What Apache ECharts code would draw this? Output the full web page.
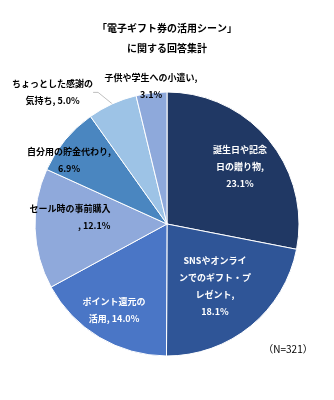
<!DOCTYPE html>
<html>
<head>
<meta charset="utf-8">
<script src="https://cdn.jsdelivr.net/npm/echarts@6/dist/echarts.min.js"></script>
<style>html,body{margin:0;padding:0;background:#fff}#c{width:334px;height:400px}</style>
</head>
<body>
<div id="c"></div>
<script>
// ---- data ----
const titleLines = ['「電子ギフト券の活用シーン」', 'に関する回答集計'];
const categories = ['誕生日や記念日の贈り物', 'SNSやオンラインでのギフト・プレゼント', 'ポイント還元の活用', 'セール時の事前購入', '自分用の貯金代わり', 'ちょっとした感謝の気持ち', '子供や学生への小遣い'];
const values = [23.1, 18.1, 14.0, 12.1, 6.9, 5.0, 3.1];
const sampleSize = 321;

// ---- style ----
const FONT = '"Noto Sans CJK JP", "Noto Sans", sans-serif';
const colors = ['#203864', '#2F5597', '#4A76C6', '#8FA9DB', '#4A86C0', '#9DC3E6', '#8EA9DB'];
const labelColors = ['#fff', '#fff', '#fff', '#000', '#000', '#000', '#000'];
const lineBreaks = [[6, 12], [8, 16, 21], [7], [9], [10], [9], [11]];
const labelPolar = [[92.6, 52], [78.4, 142.3], [101, 211.6], [97.3, 274.1], [117, 303.1], [174.4, 319], [139, 353.4]];
const labelAlign = ['center', 'center', 'center', 'right', 'center', 'center', 'center'];
const CX = 167, CY = 224, R = 132;

function wrap(i) {
  const s = categories[i] + ', ' + values[i].toFixed(1) + '%';
  const parts = []; let prev = 0;
  lineBreaks[i].forEach(k => { parts.push(s.slice(prev, k)); prev = k; });
  parts.push(s.slice(prev));
  return parts.map(p => p.trim()).join('\n');
}

const chart = echarts.init(document.getElementById('c'), null, {renderer: 'canvas'});
chart.setOption({
  animation: false,
  title: {
    text: titleLines.join('\n'),
    left: 'center', top: 13,
    textStyle: {fontSize: 10, fontWeight: 'bold', color: '#000', fontFamily: FONT, lineHeight: 20}
  },
  graphic: [{
    type: 'text', x: 288, y: 349,
    style: {text: '（N=' + sampleSize + '）', fontSize: 10, fill: '#000', fontFamily: FONT, align: 'center', verticalAlign: 'middle'}
  }],
  series: [{
    type: 'pie',
    center: [CX, CY],
    radius: [0, R],
    startAngle: 90,
    clockwise: true,
    avoidLabelOverlap: false,
    itemStyle: {borderColor: '#fff', borderWidth: 1},
    label: {
      fontSize: 9, fontWeight: 'bold', fontFamily: FONT, lineHeight: 17,
      formatter: p => wrap(p.dataIndex)
    },
    labelLine: {show: true, length: 5, length2: 5, lineStyle: {color: '#BFBFBF', width: 1}},
    labelLayout: function (params) {
      const i = params.dataIndex;
      const [r, a] = labelPolar[i];
      const rad = a * Math.PI / 180;
      let x = CX + r * Math.sin(rad);
      const y = CY - r * Math.cos(rad);
      if (labelAlign[i] === 'right') x += params.labelRect.width / 2;
      return {x: x, y: y, align: labelAlign[i], verticalAlign: 'middle'};
    },
    data: categories.map((name, i) => ({
      name: name,
      value: values[i],
      itemStyle: {color: colors[i]},
      label: {position: i < 5 ? 'inside' : 'outside', color: labelColors[i]},
      labelLine: {show: i === 5}
    }))
  }]
});
</script>
</body>
</html>
